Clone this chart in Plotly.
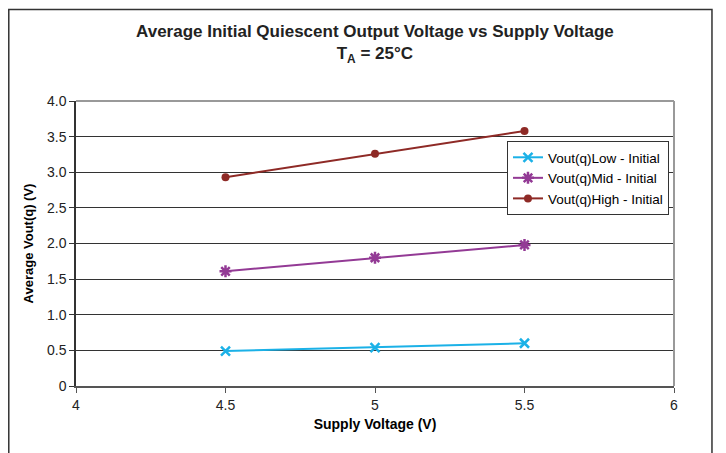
import plotly.graph_objects as go

supply_v = [4.5, 5.0, 5.5]
vout_low = [0.49, 0.54, 0.60]
vout_mid = [1.61, 1.80, 1.98]
vout_high = [2.93, 3.26, 3.58]

y_tickvals = [0, 0.5, 1.0, 1.5, 2.0, 2.5, 3.0, 3.5, 4.0]
y_ticktext = ["0", "0.5", "1.0", "1.5", "2.0", "2.5", "3.0", "3.5", "4.0"]
x_tickvals = [4, 4.5, 5, 5.5, 6]
x_ticktext = ["4", "4.5", "5", "5.5", "6"]

FONT = "Liberation Sans, Arial, sans-serif"

fig = go.Figure()
fig.add_trace(go.Scatter(x=supply_v, y=vout_low, name="Vout(q)Low - Initial", mode="lines+markers",
                         line=dict(color="#1BB1E7", width=2),
                         marker=dict(symbol="x-thin", size=9, line=dict(color="#1BB1E7", width=2.5))))
fig.add_trace(go.Scatter(x=supply_v, y=vout_mid, name="Vout(q)Mid - Initial", mode="lines+markers",
                         line=dict(color="#933A95", width=2),
                         marker=dict(symbol="asterisk", size=10, line=dict(color="#933A95", width=2.5))))
fig.add_trace(go.Scatter(x=supply_v, y=vout_high, name="Vout(q)High - Initial", mode="lines+markers",
                         line=dict(color="#8E2A26", width=2),
                         marker=dict(symbol="circle", size=8, color="#8E2A26")))

fig.update_layout(
    width=718, height=445,
    margin=dict(l=68, r=52, t=93, b=67),
    paper_bgcolor="white", plot_bgcolor="white",
    font=dict(family=FONT, color="black", size=13),
    title=dict(text="<b>Average Initial Quiescent Output Voltage vs Supply Voltage<br>T<sub>A</sub> = 25°C</b>",
               x=0.511, xanchor="center", y=0.935, yanchor="top",
               font=dict(family=FONT, size=17, color="#222")),
    showlegend=True,
    legend=dict(x=0.7207, y=0.8596, xanchor="left", yanchor="top",
                bgcolor="white", bordercolor="#333", borderwidth=1,
                font=dict(family=FONT, size=13.5, color="black"),
                tracegroupgap=0, itemwidth=30),
    xaxis=dict(range=[4, 6], tickvals=x_tickvals, ticktext=x_ticktext,
               showgrid=False, zeroline=False, showline=True, linecolor="#555", linewidth=1.5,
               ticks="outside", ticklen=5, tickcolor="#555",
               title=dict(text="<b>Supply Voltage (V)</b>", font=dict(family=FONT, size=14), standoff=8),
               tickfont=dict(family=FONT, size=14, color="#222")),
    yaxis=dict(range=[0, 4], tickvals=y_tickvals, ticktext=y_ticktext,
               showgrid=True, gridcolor="#333", gridwidth=1.2, zeroline=False,
               showline=True, linecolor="#333", linewidth=1.5,
               ticks="outside", ticklen=5, tickcolor="#333",
               title=dict(text="<b>Average Vout(q) (V)</b>", font=dict(family=FONT, size=13), standoff=10),
               tickfont=dict(family=FONT, size=14, color="#222")),
    shapes=[
        dict(type="line", xref="paper", yref="paper", x0=1, x1=1, y0=0, y1=1,
             line=dict(color="#999", width=2)),
        dict(type="line", xref="paper", yref="paper", x0=0, x1=1, y0=1, y1=1,
             line=dict(color="#999", width=2)),
        dict(type="rect", xref="paper", yref="paper", x0=-0.1124, x1=1.0635, y0=-0.3, y1=1.3210,
             line=dict(color="#333", width=1.5), fillcolor="rgba(0,0,0,0)", layer="below"),
    ],
)

fig.write_html("out.html")
